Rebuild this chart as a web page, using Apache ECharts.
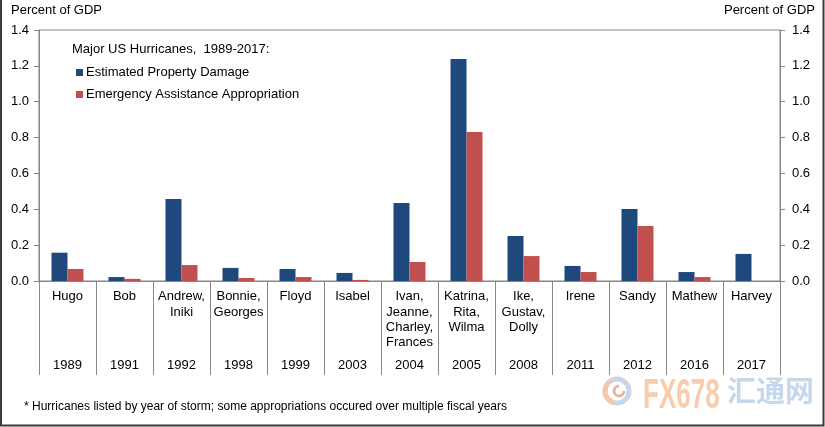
<!DOCTYPE html>
<html>
<head>
<meta charset="utf-8">
<script src="https://cdn.jsdelivr.net/npm/echarts@6/dist/echarts.min.js"></script>
<style>
html,body{margin:0;padding:0;background:#fff;}
#c{width:825px;height:427px;}
</style>
</head>
<body>
<div id="c"></div>
<script>
const categories = ['Hugo','Bob','Andrew,\nIniki','Bonnie,\nGeorges','Floyd','Isabel','Ivan,\nJeanne,\nCharley,\nFrances','Katrina,\nRita,\nWilma','Ike,\nGustav,\nDolly','Irene','Sandy','Mathew','Harvey'];
const years = ['1989','1991','1992','1998','1999','2003','2004','2005','2008','2011','2012','2016','2017'];
const propertyDamage = [0.158,0.022,0.457,0.073,0.067,0.045,0.435,1.238,0.251,0.084,0.402,0.050,0.151];
const emergencyAssistance = [0.067,0.012,0.089,0.017,0.022,0.006,0.106,0.831,0.139,0.050,0.307,0.022,null];
const yTicks = {min:0, max:1.4, interval:0.2};

const FONT = '"Liberation Sans", Arial, sans-serif';
const AX = '#868686';
const chart = echarts.init(document.getElementById('c'), null, {renderer:'canvas'});

// measure footnote to fit it to the reference width
const foot = '* Hurricanes listed by year of storm; some appropriations occured over multiple fiscal years';
const cv = document.createElement('canvas').getContext('2d');
cv.font = '12px ' + FONT;
const footScale = 483 / cv.measureText(foot).width;

const yAxisCommon = {
  type:'value', min:yTicks.min, max:yTicks.max, interval:yTicks.interval,
  axisLine:{show:true, lineStyle:{color:AX, width:1}},
  axisTick:{show:true, length:5, lineStyle:{color:AX}},
  splitLine:{show:false},
  axisLabel:{formatter:v=>v.toFixed(1), fontSize:13, color:'#000', fontFamily:FONT}
};

chart.setOption({
  animation:false,
  textStyle:{fontFamily:FONT},
  title:{text:'Major US Hurricanes,  1989-2017:', left:72, top:43, padding:0,
    textStyle:{fontSize:13, fontWeight:'normal', color:'#000', fontFamily:FONT}},
  legend:{orient:'vertical', left:76, top:66, padding:0, itemWidth:7, itemHeight:7, itemGap:9, icon:'rect',
    textStyle:{fontSize:13, color:'#000', fontFamily:FONT, padding:[0,0,0,-2]},
    data:['Estimated Property Damage','Emergency Assistance Appropriation']},
  grid:{left:39, right:45, top:30, bottom:146, show:true, borderColor:AX, borderWidth:1, containLabel:false},
  xAxis:[{
    type:'category', data:categories,
    axisLine:{show:true, onZero:false, lineStyle:{color:AX}},
    axisTick:{show:true, interval:0, length:94, lineStyle:{color:AX}},
    axisLabel:{interval:0, fontSize:13, color:'#000', lineHeight:15.3, margin:8, fontFamily:FONT}
  },{
    type:'category', data:years, position:'bottom',
    axisLine:{show:false}, axisTick:{show:false},
    axisLabel:{interval:0, fontSize:13, color:'#000', lineHeight:15, margin:77, fontFamily:FONT}
  }],
  yAxis:[
    Object.assign({}, yAxisCommon, {position:'left', axisLabel:Object.assign({}, yAxisCommon.axisLabel, {margin:10})}),
    Object.assign({}, yAxisCommon, {position:'right', axisLabel:Object.assign({}, yAxisCommon.axisLabel, {margin:12})})
  ],
  series:[
    {name:'Estimated Property Damage', type:'bar', data:propertyDamage, barWidth:16, barGap:'0%', itemStyle:{color:'#1F497D'}},
    {name:'Emergency Assistance Appropriation', type:'bar', data:emergencyAssistance, barWidth:16, barGap:'0%', itemStyle:{color:'#C0504D'}}
  ],
  graphic:[
    {type:'text', left:11, top:4, style:{text:'Percent of GDP', font:'13px '+FONT, fill:'#000'}},
    {type:'text', right:10, top:4, style:{text:'Percent of GDP', font:'13px '+FONT, fill:'#000'}},
    {type:'text', x:24, y:401, scaleX:footScale, style:{text:foot, font:'12px '+FONT, fill:'#000'}},
    // watermark
    {type:'circle', shape:{cx:617, cy:391, r:12}, style:{fill:'none', stroke:'#c9d6ea', lineWidth:5}, silent:true},
    {type:'arc', shape:{cx:617, cy:391, r:12, startAngle:Math.PI*0.6, endAngle:Math.PI*1.3}, style:{fill:'none', stroke:'#f6c7a8', lineWidth:5}, silent:true},
    {type:'arc', shape:{cx:619, cy:391, r:5, startAngle:0, endAngle:Math.PI*1.5}, style:{fill:'none', stroke:'#e8b49a', lineWidth:3}, silent:true},
    {type:'text', x:643, y:375, scaleX:0.62, style:{text:'FX678', font:'bold 42px '+FONT, fill:'#f9c3a0', opacity:0.85}, silent:true},
    {type:'text', x:727, y:376, style:{text:'汇通网', font:'bold 29px "Noto Sans CJK SC", sans-serif', fill:'#bccfe8', opacity:0.85}, silent:true},
    // frame
    {type:'polyline', shape:{points:[[1,0],[1,425.5],[823.5,425.5],[823.5,0]]}, style:{stroke:'#3a3a3a', lineWidth:2, fill:'none'}, silent:true}
  ]
});
</script>
</body>
</html>
